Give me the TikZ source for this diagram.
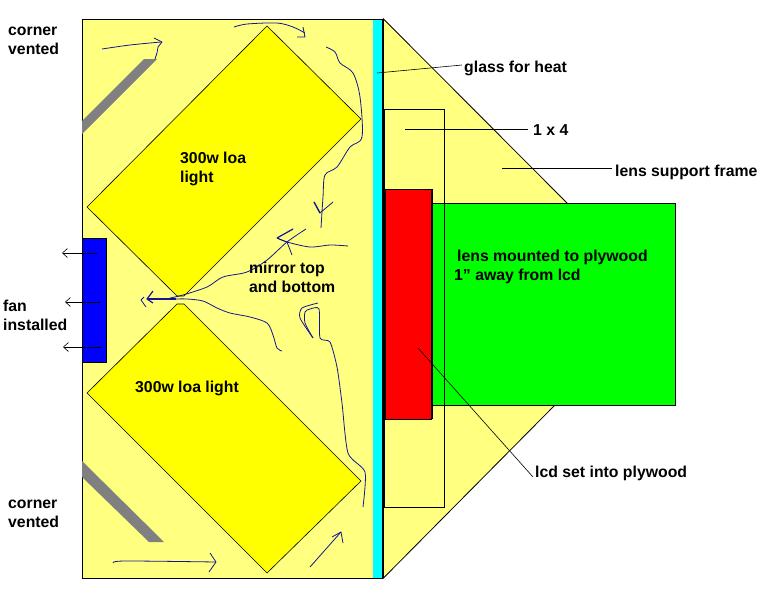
\documentclass[tikz,border=0pt]{standalone}
\usepackage{fontspec}
\setmainfont{Liberation Sans}
\usetikzlibrary{arrows.meta}
\definecolor{panelyellow}{RGB}{255,255,128}
\definecolor{lampyellow}{RGB}{255,255,0}
\definecolor{handblue}{RGB}{20,20,150}
\definecolor{glasscyan}{RGB}{0,255,255}
\definecolor{ventgray}{RGB}{128,128,128}
\definecolor{fanblue}{RGB}{0,0,255}
\definecolor{lensgreen}{RGB}{0,255,0}
\definecolor{lcdred}{RGB}{255,0,0}
\tikzset{
  outline/.style={draw=black, line width=0.8pt},
  leader/.style={draw=black, line width=0.6pt},
  hand/.style={draw=handblue, line width=0.8pt, line join=round},
  label/.style={font=\fontsize{15.8}{18.8}\selectfont\bfseries, text=black, inner sep=0pt, anchor=west, align=left},
  fanarrow/.style={leader, -{Straight Barb[length=5pt,width=9pt]}}
}
\begin{document}
\begin{tikzpicture}[x=1pt, y=-1pt]
  \useasboundingbox (0,0) rectangle (765,589);
  \fill[white] (0,0) rectangle (765,589);
  \filldraw[fill=panelyellow, outline] (383.5,19) -- (567,203) -- (555,405) -- (383.5,578) -- cycle;
  \filldraw[fill=panelyellow, outline] (82,19) rectangle (382.5,578);
  \fill[glasscyan] (373,19.5) rectangle (381.8,577.5);
  \filldraw[fill=lampyellow, outline, line width=0.6pt] (267,26) -- (361,119) -- (184,296) -- (177,296) -- (87,207) -- cycle;
  \filldraw[fill=lampyellow, outline, line width=0.6pt] (177,304) -- (184,304) -- (361,481) -- (267,573) -- (87,393) -- cycle;
  \fill[ventgray] (82,121) -- (144,59) -- (157,59) -- (82,134) -- cycle;
  \fill[ventgray] (82,461) -- (164,542) -- (149,542) -- (82,477) -- cycle;
  \filldraw[fill=fanblue, outline] (82,238) rectangle (106,362);
  \filldraw[fill=lensgreen, outline] (432,203) rectangle (675,405);
  \draw[outline] (384.5,109) rectangle (444,507);
  \filldraw[fill=lcdred, outline] (385.5,189) rectangle (431,419);
  \draw[black, line width=2pt] (432,189) -- (432,419);

  \node[label] (cornertop) at (8,41) {corner\\vented};
  \node[label] (cornerbottom) at (8,513.5) {corner\\vented};
  \node[label] (fan) at (3,315) {fan\\installed};
  \node[label] (lamptop) at (180,169) {300w loa\\light};
  \node[label] (lampbottom) at (135,388.5) {300w loa light};
  \node[label] (mirror) at (249,277) {mirror top\\and bottom};
  \node[label] (glass) at (464,68.5) {glass for heat};
  \node[label] (board) at (533,130) {1 x 4};
  \node[label] (frame) at (615,172.5) {lens support frame};
  \node[label] (lens) at (454,267) {\hspace*{3pt}lens mounted to plywood\\1\char"22{} away from lcd};
  \node[label] (lcd) at (535,473) {lcd set into plywood};

  \coordinate (glasspt) at (377,73);
  \coordinate (boardpt) at (405,129);
  \coordinate (framept) at (502,168);
  \coordinate (lcdpt) at (418,348);
  \coordinate (fanin1) at (97,253);
  \coordinate (fanout1) at (62,253);
  \coordinate (fanin2) at (100,302);
  \coordinate (fanout2) at (65,302);
  \coordinate (fanin3) at (102,347);
  \coordinate (fanout3) at (63,347);
  \draw[leader] (glasspt) -- ([xshift=-2pt,yshift=3.5pt]glass.west);
  \draw[leader] (boardpt) -- ([xshift=-5pt,yshift=1pt]board.west);
  \draw[leader] (framept) -- ([xshift=-3pt,yshift=4.5pt]frame.west);
  \draw[leader] (lcdpt) -- ([xshift=-2pt,yshift=-4pt]lcd.west);
  \foreach \i in {1,2,3} { \draw[fanarrow] (fanin\i) -- (fanout\i); }

  \draw[hand] plot[smooth, tension=0.5] coordinates {(102,49) (130,45) (161,42)};
  \draw[hand] (154,38) -- (162,42) -- (158,47) -- (157,53) -- (155,59);
  \draw[hand] plot[smooth, tension=0.5] coordinates {(234,27) (247,24) (277,23) (293,27) (305,33)};
  \draw[hand] (303,27) -- (305,37) -- (297,37);
  \draw[hand] plot[smooth, tension=0.5] coordinates {(326,47) (335,52) (340,63) (353,73) (360,97) (362,137) (350,147) (337,167) (325,175) (323,197) (321,228)};
  \draw[hand] (320,213) -- (333,202);
  \draw[hand, line width=1.4pt] (314,202) -- (320,213);
  \draw[hand] plot[smooth, tension=0.5] coordinates {(348,246) (330,245) (310,247) (287,242) (277,238)};
  \draw[hand, line width=1.2pt] (293,229) -- (277,238);
  \draw[hand] (277,238) -- (287,242) -- (292,255);
  \draw[hand] plot[smooth, tension=0.5] coordinates {(306,229) (287,242) (267,260) (247,272) (223,277) (207,287) (183,295) (170,298)};
  \draw[hand, line width=1.6pt] (176,299) -- (147,299);
  \draw[hand, line width=1.2pt] (153,291) -- (147,299) -- (153,303);
  \draw[hand] (144,297) -- (141,300) -- (146,307);
  \draw[hand] plot[smooth, tension=0.5] coordinates {(176,299) (187,299) (203,301) (217,308) (230,313) (250,317) (267,323) (273,335) (277,348) (282,351)};
  \draw[hand] plot[smooth, tension=0.4] coordinates {(318,303) (302,308) (300,318) (313,338)};
  \draw[hand] plot[smooth, tension=0.4] coordinates {(313,338) (305,323) (305,312) (310,309) (319,309) (320,338) (330,342) (337,367) (342,403) (348,453) (365,472) (363,507)};
  \draw[hand] plot[smooth, tension=0.5] coordinates {(113,563) (125,561) (216,562)};
  \draw[hand] (210,553) -- (216,562) -- (209,572);
  \draw[hand] (310,567) -- (341,532);
  \draw[hand] (332,537) -- (341,532) -- (343,543);
\end{tikzpicture}
\end{document}
